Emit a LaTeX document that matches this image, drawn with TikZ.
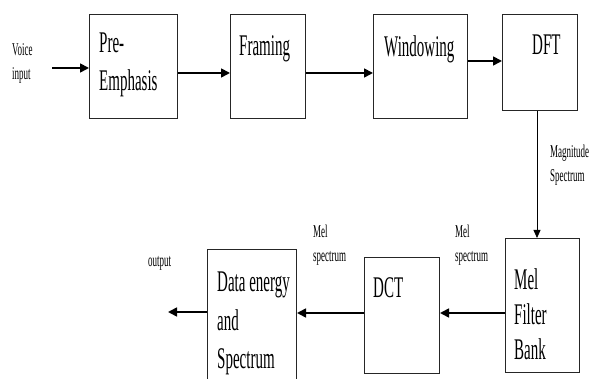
\documentclass[tikz,border=0pt]{standalone}
\usepackage{fontspec}
\setmainfont{Liberation Serif}[FakeStretch=0.5]
\usetikzlibrary{arrows.meta}

\begin{document}
\begin{tikzpicture}[x=1pt,y=-1pt,
    blk/.style={draw=black!85,line width=1pt,anchor=north west,inner sep=0pt},
    blktext/.style={anchor=north west,inner sep=0pt,align=left,
      font=\fontsize{30}{38}\selectfont},
    note/.style={anchor=north west,inner sep=0pt,align=left,
      font=\fontsize{18}{24}\selectfont},
    flow/.style={-{Triangle[length=9pt,width=9pt]},line width=1.7pt},
    thinflow/.style={-{Triangle[length=8pt,width=7pt]},line width=0.8pt}]
    \useasboundingbox (0,0) rectangle (592,379);
    % top row
    \node[blk,minimum width=88pt,minimum height=104pt] (pre) at (89,14) {};
    \node[blk,minimum width=75pt,minimum height=104pt] (framing) at (230,14) {};
    \node[blk,minimum width=94pt,minimum height=104pt] (windowing) at (373,14) {};
    \node[blk,minimum width=75pt,minimum height=96pt] (dft) at (502,14) {};
    % bottom row
    \node[blk,minimum width=74pt,minimum height=134pt] (mel) at (505,238) {};
    \node[blk,minimum width=75pt,minimum height=116pt] (dct) at (364,257) {};
    \node[blk,minimum width=89pt,minimum height=136pt] (data) at (207,249) {};
    % texts in the blocks
    \node[blktext] (pretext) at (99,33) {Pre-\\Emphasis};
    \node[blktext] (framingtext) at (239,35) {Framing};
    \node[blktext] (windowingtext) at (384,35) {Windowing};
    \node[blktext] (dfttext) at (532,35) {DFT};
    \node[blktext,font=\fontsize{30}{35}\selectfont] (meltext) at (514,268) {Mel\\Filter\\Bank};
    \node[blktext] (dcttext) at (373,277) {DCT};
    \node[blktext,font=\fontsize{30}{38.5}\selectfont] (datatext) at (217,272) {Data energy\\and\\Spectrum};
    % small labels
    \node[note] (voice) at (12,43) {Voice\\input};
    \node[note] (magspec) at (550,145) {Magnitude\\Spectrum};
    \node[note] (melspecA) at (455,225) {Mel\\spectrum};
    \node[note] (melspecB) at (313,225) {Mel\\spectrum};
    \node[note] (output) at (148,256) {output};
    % connectors
    \coordinate (in) at (52,68);
    \coordinate (out) at (168,312);
    \draw[flow] (in) -- (in -| pre.west);
    \draw[flow] (pre.east |- 0,73) -- (framing.west |- 0,73);
    \draw[flow] (framing.east |- 0,73) -- (windowing.west |- 0,73);
    \draw[flow] (windowing.east |- 0,61) -- (dft.west |- 0,61);
    \draw[thinflow] (dft.south -| 537,0) -- (mel.north -| 537,0);
    \draw[flow] (mel.west |- 0,313) -- (dct.east |- 0,313);
    \draw[flow] (dct.west |- 0,313) -- (data.east |- 0,313);
    \draw[flow] (data.west |- out) -- (out);
  \end{tikzpicture}
\end{document}
